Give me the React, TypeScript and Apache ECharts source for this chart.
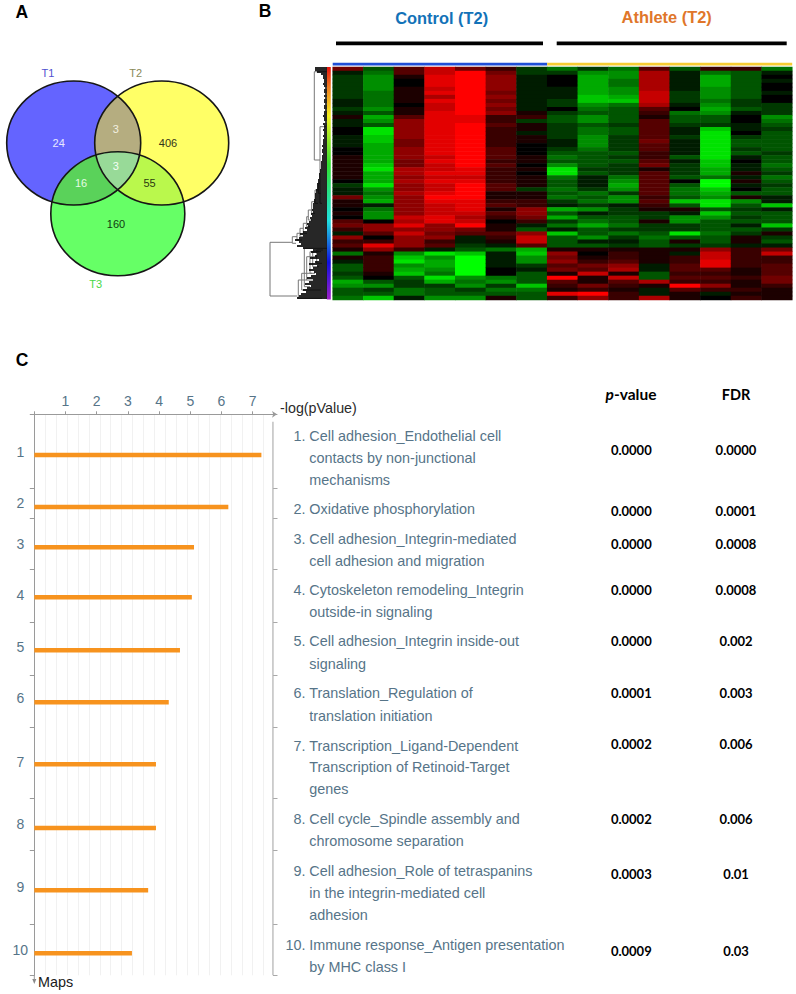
import React, { useEffect, useRef } from "react";
import * as echarts from "echarts";

// ---------- Panel A ----------
const vennSets = ["T1", "T2", "T3"];
const vennCounts = ["24", "406", "160", "3", "16", "55", "3"];

// ---------- Panel B: expression levels, -9 (green) .. 9 (red) ----------
const c1 = [4,-1,-2,-2,-2,-2,-2,-2,-1,-1,-2,-1,1,-1,-1,0,0,-1,-1,-1,0,0,1,1,1,1,1,1,0,-2,-1,-1,4,1,1,0,1,0,3,4,2,-1,5,2,3,1,-4,1,-1,-3,-3,-2,-3,-6,-5,-3,-3,-4];
const c2 = [-3,-4,-5,-5,-5,-5,-4,-4,-4,-4,-5,-3,-6,-5,-3,-8,-8,-7,-7,-6,-6,-6,-6,-6,-7,-8,-6,-6,-6,-8,-5,-4,-5,-6,-1,-4,-5,-5,0,5,5,3,0,2,8,5,1,2,2,2,2,1,0,-3,-5,-2,-3,-7];
const c3 = [3,3,1,0,0,1,1,1,1,0,1,1,3,5,5,5,5,5,4,4,5,5,5,4,4,6,6,5,6,5,5,6,5,5,5,5,5,7,6,8,5,7,5,5,5,2,-5,-7,-8,-5,-6,-7,-3,-2,-2,-4,-4,-1];
const c4 = [7,7,8,8,8,7,8,6,8,7,7,8,8,8,8,8,8,8,8,8,8,8,7,8,7,7,8,7,8,7,7,8,9,8,7,7,7,8,8,5,5,4,5,2,3,-1,-8,-5,-6,-6,-5,-4,-8,-6,-2,-3,-3,-5];
const c5 = [4,9,9,9,9,9,9,9,9,9,9,9,8,8,9,9,9,9,9,9,9,9,9,9,9,8,8,7,8,9,9,9,9,8,8,8,7,6,7,9,4,3,-1,-1,-2,-3,-7,-9,-9,-9,-9,-9,-5,-4,-5,-2,-3,-5];
const c6 = [2,4,5,5,5,5,4,5,4,5,4,5,2,2,3,2,2,2,2,2,3,3,3,2,3,2,2,2,2,3,3,1,1,2,3,1,3,2,0,1,1,3,2,1,-1,-4,-1,-1,-1,-1,0,0,-4,-5,-2,-4,-3,1];
const c7 = [-2,-2,-1,-1,-1,-1,-1,-1,-1,-1,-1,1,2,-2,1,1,-1,1,1,0,0,0,1,1,0,1,0,1,1,1,-2,1,1,2,2,5,5,4,2,-1,-3,5,7,7,3,-6,-7,-5,-5,-2,-1,-3,-3,-3,-7,-4,-3,-3];
const c8 = [-4,-2,0,0,0,-1,-1,-1,-2,-2,0,-2,-3,-3,-2,-2,-2,-2,-1,-1,-2,-3,-4,-3,-5,-8,-8,-4,-3,-3,-4,-3,-4,-2,-1,-6,-3,-6,-2,-4,-1,-7,-3,-3,-3,1,5,4,5,3,4,1,9,3,2,1,8,2];
const c9 = [-2,-5,-6,-6,-6,-6,-6,-7,-7,-5,-4,-3,-5,-5,-3,-4,-4,-5,-5,-5,-4,-3,-3,-3,-3,-2,-3,-1,-1,-1,-2,-4,-3,-4,-2,-5,-1,-3,-4,-6,-3,-3,-5,-1,-3,1,0,1,2,4,3,7,1,1,4,2,9,5];
const c10 = [-4,-5,-5,-4,-4,-5,-5,-6,-7,-4,-3,-3,-3,-3,-2,-3,-3,-2,-2,-2,-2,-3,-2,-3,-2,-2,-2,-4,-5,-6,-5,-2,-5,-5,-1,-2,-2,-3,-3,-4,-2,-4,-2,-1,-2,1,2,2,3,5,6,1,7,3,2,1,2,2];
const c11 = [3,6,6,6,6,6,7,7,7,6,3,2,1,3,3,3,3,3,4,3,3,2,2,3,4,1,3,3,3,3,3,3,2,3,2,1,-2,-2,1,-2,-2,-3,-4,-3,-3,1,1,1,1,-1,-1,-3,-3,6,1,-1,-1,6];
const c12 = [-3,-1,-1,-1,-1,-1,-2,-2,-2,-1,0,-4,-3,-3,-2,-1,-1,-2,-1,-1,-1,-1,-3,-1,-2,-2,-2,-3,0,-3,-4,-4,-3,-7,-3,1,-1,-5,-5,-2,-2,-8,-3,1,-2,1,-1,2,2,3,3,2,3,2,9,3,1,1];
const c13 = [2,-4,-6,-6,-6,-5,-5,-5,-4,-5,-6,-5,-3,-3,-2,-7,-8,-8,-8,-8,-8,-8,-8,-7,-7,-6,-6,-4,-9,-9,-7,-6,-5,-8,-8,-3,-7,-5,-3,-3,-3,-4,-3,-3,-2,5,7,7,8,8,3,2,3,2,5,2,-1,0];
const c14 = [2,-3,-3,-3,-3,-3,-3,-3,-2,-2,-3,-1,0,0,-1,-1,0,-2,-3,-3,-2,-3,-1,0,-1,-1,1,-1,1,-1,0,-3,1,-5,-3,-2,-3,-2,-3,-1,-3,-2,1,1,-1,2,2,2,2,2,1,1,2,1,1,2,1,2];
const c15 = [-4,-1,0,-1,0,0,-1,0,0,-2,-2,-2,-5,-4,-3,-2,-3,-3,-3,-3,-3,-2,-3,-3,-4,-3,-2,-4,-3,-2,-3,-3,-1,-1,-7,-1,-3,-3,-3,-7,-2,1,-2,-3,-1,4,7,2,2,3,3,3,4,4,2,1,1,1];
const expression = [c1, c2, c3, c4, c5, c6, c7, c8, c9, c10, c11, c12, c13, c14, c15];
const sampleNames = ["C1","C2","C3","C4","C5","C6","C7","A1","A2","A3","A4","A5","A6","A7","A8"];
const groupTitles = ["Control (T2)", "Athlete (T2)"];

// dendrogram: leaf stem depth per leaf (every other gene slot), then [depth, top, bottom, topStub, bottomStub]
const leafDepths = [12,12,10,6,4,4,3,3,4,3,2,3,3,2,3,2,3,3,2,3,3,2,3,3,4,3,3,2,4,3,3,4,3,3,4,3,4,4,4,5,4,5,5,4,5,5,5,6,6,6,6,7,7,8,8,8,9,9,10,10,10,11,11,12,12,12,13,13,14,14,14,15,14,16,15,17,16,18,20,19,22,20,24,27,24,28,32,28,26,30,24,14,16,10,12,17,8,12,18,10,14,18,13,11,16,20,14,18,22,16,20,24,21,26,28,30];
const dendroBranches = [
  [57,175.3,229,35,30],[34.7,169.7,176.3,30,31],[30,166.3,173,27,25],[27,161.3,169.7,23.7,24],
  [23.7,156.3,166.3,20.3,20],[20.3,149.7,159.7,18.7,17],[18.7,143,153,15.3,15],[15.3,134.7,146.3,12,12],
  [12,123,136.3,8.7,9],[8.7,116.3,126.3,7,6],[12.7,4.7,93,0.3,7],[7,59.7,136.3,1,5],
  [22.7,181.3,219.7,0,17],[20.3,189.7,213,10,14],[17,184.7,206.3,8,12],[14.3,184.7,199.7,6,8],
  [10.3,183,196.3,4,5],[28.7,213,231.3,20,5],[25.3,206.3,223,15,6],
];

// ---------- Panel C ----------
const mapIds = ["1","2","3","4","5","6","7","8","9","10"];
const logP = [7.28,6.22,5.12,5.05,4.67,4.31,3.9,3.9,3.65,3.13];
const barRows = [40.7,92.7,133,183,236,288,350,413.7,476,539];
const labelRows = [38,89,130,181,233,284,348,410,473,536];
const rowEdges = [0,74,104,155,208,261,313,384,436,510,561];
const xTicks = [0,1,2,3,4,5,6,7];
const pathwayNames = [
  ["Cell adhesion_Endothelial cell","contacts by non-junctional","mechanisms"],
  ["Oxidative phosphorylation"],
  ["Cell adhesion_Integrin-mediated","cell adhesion and migration"],
  ["Cytoskeleton remodeling_Integrin","outside-in signaling"],
  ["Cell adhesion_Integrin inside-out","signaling"],
  ["Translation_Regulation of","translation initiation"],
  ["Transcription_Ligand-Dependent","Transcription of Retinoid-Target","genes"],
  ["Cell cycle_Spindle assembly and","chromosome separation"],
  ["Cell adhesion_Role of tetraspanins","in the integrin-mediated cell","adhesion"],
  ["Immune response_Antigen presentation","by MHC class I"],
];
const pValues = ["0.0000","0.0000","0.0000","0.0000","0.0000","0.0001","0.0002","0.0002","0.0003","0.0009"];
const fdrValues = ["0.0000","0.0001","0.0008","0.0008","0.002","0.003","0.006","0.006","0.01","0.03"];

// ---------- layout ----------
const pathwayY = [[436,458,480],[509],[539,561],[590,612],[641,664],[693,716],[746,767,789],[819,841],[871,893,915],[945,967]];
const tableY = [450,511,544,590,641,693,744,819,874,951];

const rT = 67, rB = 62;
const E1 = { cx: 73.7, cy: 143 }, E2 = { cx: 161.7, cy: 143 }, E3 = { cx: 117.8, cy: 213.7 };
const arc = (x: number, y: number) => `A${rT} ${rB} 0 0 1 ${x} ${y}`;
const regions: Record<string, string> = {
  vennAB: `M117.7 96.1${arc(117.7, 189.9)}${arc(117.7, 96.1)}Z`,
  vennAC: `M51.7 201.7${arc(140.2, 155)}${arc(51.7, 201.7)}Z`,
  vennBC: `M95.2 155${arc(183.7, 201.7)}${arc(95.2, 155)}Z`,
  vennABC: `M95.2 155${arc(140.2, 155)}${arc(117.7, 189.9)}${arc(95.2, 155)}Z`,
};
Object.keys(regions).forEach((k) => {
  echarts.graphic.registerShape(k, echarts.graphic.extendPath(regions[k] as any, {}) as any);
});

const SANS = "'Liberation Sans', Arial, sans-serif";
const SLATE = "#567488";
const txt = (text: string, x: number, y: number, font: string, fill: string, align = "center") => ({
  type: "text", silent: true,
  style: { text, x, y, font, fill, align, verticalAlign: "middle" },
});
const rect = (x: number, y: number, width: number, height: number, fill: any) => ({
  type: "rect", silent: true, shape: { x, y, width, height }, style: { fill },
});

function buildGraphic() {
  const ell = (e: { cx: number; cy: number }, style: any) => ({
    type: "ellipse", silent: true, shape: { cx: e.cx, cy: e.cy, rx: rT, ry: rB }, style,
  });
  const outline = { fill: "none", stroke: "#161616", lineWidth: 1.6 };
  const venn = [
    ell(E1, { fill: "#6464ff" }), ell(E2, { fill: "#ffff66" }), ell(E3, { fill: "#66ff66" }),
    { type: "vennAB", silent: true, style: { fill: "#b5ad80" } },
    { type: "vennAC", silent: true, style: { fill: "#5ad25a" } },
    { type: "vennBC", silent: true, style: { fill: "#baf84c" } },
    { type: "vennABC", silent: true, style: { fill: "#98da98" } },
    ell(E1, outline), ell(E2, outline), ell(E3, outline),
    txt(vennSets[0], 48, 73, `11px ${SANS}`, "#5050d0"),
    txt(vennSets[1], 135.6, 73, `11px ${SANS}`, "#8a8a58"),
    txt(vennSets[2], 95.7, 284, `11px ${SANS}`, "#48d848"),
    txt(vennCounts[0], 58.7, 143, `11px ${SANS}`, "#e8e8ff"),
    txt(vennCounts[1], 168, 143, `11px ${SANS}`, "#33331a"),
    txt(vennCounts[2], 116, 223.5, `11px ${SANS}`, "#103a10"),
    txt(vennCounts[3], 115.7, 129, `11px ${SANS}`, "#f2f0e0"),
    txt(vennCounts[4], 81, 183, `11px ${SANS}`, "#e4fbe4"),
    txt(vennCounts[5], 149.5, 183, `11px ${SANS}`, "#2c3a10"),
    txt(vennCounts[6], 115.7, 166, `11px ${SANS}`, "#f4fff4"),
  ];
  const letters = [
    txt("A", 21.7, 12, `bold 17.5px ${SANS}`, "#000"),
    txt("B", 265, 10.5, `bold 17.5px ${SANS}`, "#000"),
    txt("C", 22, 360, `bold 17.5px ${SANS}`, "#000"),
  ];
  const heatDecor = [
    txt(groupTitles[0], 441.7, 18, `bold 16.4px ${SANS}`, "#1272b8"),
    txt(groupTitles[1], 666.7, 17, `bold 16.4px ${SANS}`, "#e0762a"),
    rect(336, 41.5, 207, 3.8, "#000"),
    rect(556.7, 41.5, 230, 3.8, "#000"),
    rect(332.7, 62.8, 214.5, 2.6, "#1f4fd8"),
    rect(547.2, 62.8, 245, 2.6, "#f7cd33"),
    rect(326.8, 67, 4, 232.5, new echarts.graphic.LinearGradient(0, 0, 0, 1, [
      { offset: 0, color: "#e8120c" }, { offset: 0.09, color: "#f08020" }, { offset: 0.21, color: "#f4f020" },
      { offset: 0.42, color: "#30e030" }, { offset: 0.66, color: "#20e0e0" }, { offset: 0.84, color: "#1010e0" },
      { offset: 1, color: "#a020c8" },
    ])),
  ];
  const table: any[] = [
    txt("-log(pValue)", 280, 407.5, `14.3px ${SANS}`, "#2a2a2a", "left"),
    txt("Maps", 38, 981.5, `14.4px ${SANS}`, "#1a1a1a", "left"),
    {
      type: "text", silent: true,
      style: {
        text: "{i|p}{b|-value}", x: 631, y: 394, align: "center", verticalAlign: "middle",
        rich: {
          i: { font: "italic bold 15.5px Lato", fill: "#000" },
          b: { font: "bold 15.5px Lato", fill: "#000" },
        },
      },
    },
    txt("FDR", 736, 394, "bold 14.5px Lato", "#000"),
    { type: "polygon", silent: true, shape: { points: [[32.3, 979], [36.3, 979], [34.3, 984]] }, style: { fill: "#888" } },
    { type: "line", silent: true, shape: { x1: 34.3, y1: 975, x2: 34.3, y2: 980 }, style: { stroke: "#999", lineWidth: 1 } },
  ];
  pathwayNames.forEach((lines, i) => {
    table.push(txt(`${mapIds[i]}.`, 305.5, pathwayY[i][0], `14.4px ${SANS}`, SLATE, "right"));
    lines.forEach((l, j) => table.push(txt(l, 309.3, pathwayY[i][j], `14.4px ${SANS}`, SLATE, "left")));
    table.push(txt(pValues[i], 631.3, tableY[i], "bold 13px Lato", "#000"));
    table.push(txt(fdrValues[i], 736, tableY[i], "bold 13px Lato", "#000"));
  });
  return [...venn, ...letters, ...heatDecor, ...table];
}

export default function App() {
  const ref = useRef<HTMLDivElement>(null);
  useEffect(() => {
    const chart = echarts.init(ref.current!, undefined, { renderer: "svg" });
    const heatData: number[][] = [];
    expression.forEach((col, x) => col.forEach((v, y) => heatData.push([x, y, v])));
    const rowNames = c1.map((_, i) => String(i));
    const xMax = 7.78;
    const axisGrey = "#9a9a9a";
    const axisLabelStyle = { color: SLATE, fontFamily: SANS, fontSize: 14 };
    chart.setOption({
      animation: false,
      backgroundColor: "#fff",
      graphic: { elements: buildGraphic() },
      grid: [
        { left: 332.7, top: 67, width: 459.6, height: 233, containLabel: false },
        { left: 270, top: 67, width: 57, height: 233 },
        { left: 34.3, top: 414.3, width: 242.7, height: 561 },
        { left: 34.3, top: 414.3, width: 238.7, height: 561 },
      ],
      xAxis: [
        { gridIndex: 0, type: "category", data: sampleNames, show: false },
        { gridIndex: 1, type: "value", min: 0, max: 57, inverse: true, show: false },
        {
          gridIndex: 2, type: "value", position: "top", min: 0, max: xMax, interval: 1,
          splitLine: { show: false },
          axisLine: { show: true, lineStyle: { color: axisGrey }, symbol: ["none", "arrow"], symbolSize: [5, 5] },
          axisTick: { show: true, length: 3, customValues: xTicks, lineStyle: { color: axisGrey } },
          axisLabel: {
            ...axisLabelStyle, margin: 6, customValues: xTicks.slice(1),
            formatter: (v: number) => String(v),
          },
        },
        {
          gridIndex: 3, type: "value", min: 0, max: 7.65, interval: 0.35,
          axisLine: { show: false }, axisTick: { show: false }, axisLabel: { show: false },
          splitLine: { show: true, showMinLine: false, showMaxLine: false, lineStyle: { color: "#f1f1f1", width: 1 } },
        },
      ],
      yAxis: [
        { gridIndex: 0, type: "category", data: rowNames, inverse: true, show: false },
        { gridIndex: 1, type: "value", min: 0, max: 233, inverse: true, show: false },
        {
          gridIndex: 2, type: "value", position: "left", inverse: true, min: 0, max: 561,
          splitLine: { show: false },
          axisLine: { show: true, lineStyle: { color: axisGrey } },
          axisTick: { show: true, length: 4.5, customValues: rowEdges, lineStyle: { color: axisGrey } },
          axisLabel: {
            ...axisLabelStyle, customValues: labelRows, align: "center", margin: 14,
            formatter: (v: number) => mapIds[labelRows.indexOf(v)] ?? "",
          },
        },
        {
          gridIndex: 2, type: "value", position: "right", offset: -4, inverse: true, min: 0, max: 561,
          splitLine: { show: false },
          axisLine: { show: false },
          axisTick: { show: true, length: 4.5, customValues: rowEdges.slice(1), lineStyle: { color: "#a8a8a8" } },
          axisLabel: { show: false },
        },
        { gridIndex: 3, type: "value", inverse: true, min: 0, max: 561, show: false },
      ],
      visualMap: {
        show: false, seriesIndex: 0, min: -9, max: 9, dimension: 2,
        inRange: { color: ["#00ff00", "#000000", "#ff0000"] },
      },
      series: [
        {
          type: "heatmap", xAxisIndex: 0, yAxisIndex: 0, data: heatData, silent: true,
          itemStyle: { borderWidth: 0 }, progressive: 0,
        },
        {
          type: "custom", xAxisIndex: 1, yAxisIndex: 1, silent: true,
          data: dendroBranches,
          renderItem: (_: any, api: any) => {
            const h = api.value(0), t = api.value(1), b = api.value(2), st = api.value(3), sb = api.value(4);
            const pts = [api.coord([st, t]), api.coord([h, t]), api.coord([h, b]), api.coord([sb, b])];
            return {
              type: "polyline", shape: { points: pts },
              style: { stroke: "#777", lineWidth: 1, fill: "none" },
            };
          },
        },
        {
          type: "custom", xAxisIndex: 1, yAxisIndex: 1, silent: true,
          data: leafDepths.map((d, i) => [d, 2 * i + 1]),
          renderItem: (_: any, api: any) => {
            const a = api.coord([api.value(0), api.value(1)]);
            const b = api.coord([0, api.value(1)]);
            return {
              type: "line", shape: { x1: a[0], y1: a[1], x2: b[0], y2: b[1] },
              style: { stroke: "#000", lineWidth: 1.7 },
            };
          },
        },
        {
          type: "custom", xAxisIndex: 2, yAxisIndex: 2, silent: true,
          data: logP.map((v, i) => [v, barRows[i]]),
          z: 5,
          renderItem: (_: any, api: any) => {
            const a = api.coord([0, api.value(1)]);
            const b = api.coord([api.value(0), api.value(1)]);
            return {
              type: "rect", shape: { x: a[0], y: a[1] - 2.2, width: b[0] - a[0], height: 4.4 },
              style: { fill: "#f7931e" },
            };
          },
        },
        {
          type: "custom", xAxisIndex: 2, yAxisIndex: 2, silent: true,
          data: [[7.65, 7.5, 561]],
          renderItem: (_: any, api: any) => {
            const a = api.coord([api.value(0), api.value(1)]);
            const b = api.coord([api.value(0), api.value(2)]);
            return {
              type: "line", shape: { x1: a[0], y1: a[1], x2: b[0], y2: b[1] },
              style: { stroke: "#b0b0b0", lineWidth: 1.2 },
            };
          },
        },
      ],
    });
    return () => chart.dispose();
  }, []);
  return <div ref={ref} style={{ position: "absolute", left: 0, top: 0, width: 796, height: 994 }} />;
}
